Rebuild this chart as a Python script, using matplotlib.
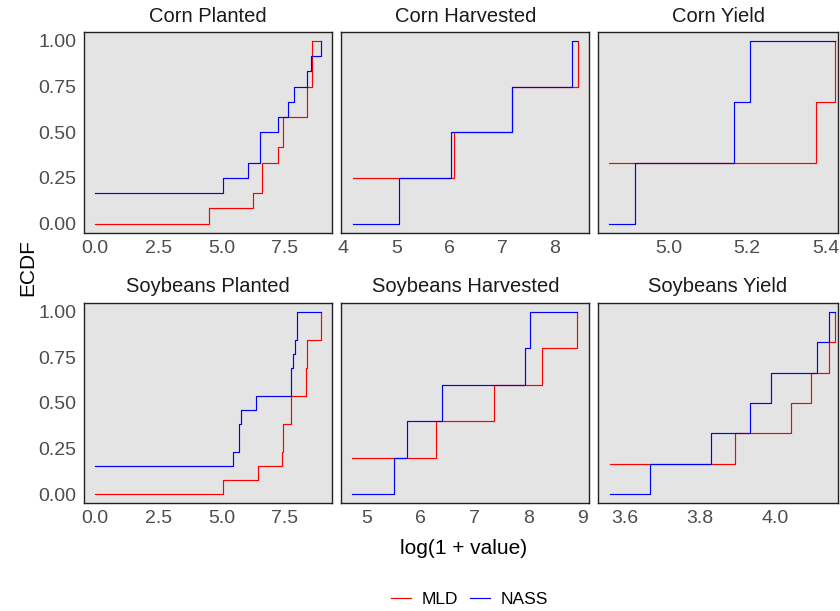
import matplotlib

matplotlib.use("Agg")
import matplotlib.pyplot as plt
from matplotlib.lines import Line2D

plt.rcParams["font.family"] = ["Liberation Sans", "DejaVu Sans"]

# step data: x where each level starts, y = ECDF level (last point closes the line)
panels = ["Corn Planted", "Corn Harvested", "Corn Yield",
          "Soybeans Planted", "Soybeans Harvested", "Soybeans Yield"]

corn_planted_mld_x = [0.0, 4.51, 6.25, 6.58, 7.22, 7.42, 8.37, 8.55, 8.92]
corn_planted_mld_y = [0.0, 0.083, 0.167, 0.333, 0.417, 0.583, 0.75, 1.0, 1.0]
corn_planted_nass_x = [0.0, 5.07, 6.03, 6.51, 7.21, 7.62, 7.84, 8.36, 8.52, 8.92]
corn_planted_nass_y = [0.167, 0.25, 0.333, 0.5, 0.583, 0.667, 0.75, 0.833, 0.917, 1.0]

corn_harv_mld_x = [4.18, 6.09, 7.19, 8.43]
corn_harv_mld_y = [0.25, 0.5, 0.75, 1.0]
corn_harv_nass_x = [4.18, 5.05, 6.03, 7.18, 8.33, 8.42]
corn_harv_nass_y = [0.0, 0.25, 0.5, 0.75, 1.0, 1.0]

corn_yield_mld_x = [4.846, 5.375, 5.424]
corn_yield_mld_y = [0.333, 0.667, 1.0]
corn_yield_nass_x = [4.846, 4.913, 5.167, 5.208, 5.424]
corn_yield_nass_y = [0.0, 0.333, 0.667, 1.0, 1.0]

soy_planted_mld_x = [0.0, 5.04, 6.45, 7.37, 7.41, 7.73, 8.33, 8.37, 8.92]
soy_planted_mld_y = [0.0, 0.077, 0.154, 0.231, 0.385, 0.538, 0.692, 0.846, 1.0]
soy_planted_nass_x = [0.0, 5.47, 5.70, 5.75, 6.34, 7.74, 7.83, 7.90, 7.96, 8.92]
soy_planted_nass_y = [0.154, 0.231, 0.385, 0.462, 0.538, 0.692, 0.769, 0.846, 1.0, 1.0]

soy_harv_mld_x = [4.73, 6.29, 7.36, 8.25, 8.90]
soy_harv_mld_y = [0.2, 0.4, 0.6, 0.8, 1.0]
soy_harv_nass_x = [4.73, 5.52, 5.76, 6.40, 7.94, 8.02, 8.90]
soy_harv_nass_y = [0.0, 0.2, 0.4, 0.6, 0.8, 1.0, 1.0]

soy_yield_mld_x = [3.559, 3.893, 4.044, 4.097, 4.146, 4.160]
soy_yield_mld_y = [0.167, 0.333, 0.5, 0.667, 0.833, 1.0]
soy_yield_nass_x = [3.559, 3.666, 3.831, 3.934, 3.991, 4.113, 4.144, 4.160]
soy_yield_nass_y = [0.0, 0.167, 0.333, 0.5, 0.667, 0.833, 1.0, 1.0]

mld = [
    (corn_planted_mld_x, corn_planted_mld_y),
    (corn_harv_mld_x, corn_harv_mld_y),
    (corn_yield_mld_x, corn_yield_mld_y),
    (soy_planted_mld_x, soy_planted_mld_y),
    (soy_harv_mld_x, soy_harv_mld_y),
    (soy_yield_mld_x, soy_yield_mld_y),
]
nass = [
    (corn_planted_nass_x, corn_planted_nass_y),
    (corn_harv_nass_x, corn_harv_nass_y),
    (corn_yield_nass_x, corn_yield_nass_y),
    (soy_planted_nass_x, soy_planted_nass_y),
    (soy_harv_nass_x, soy_harv_nass_y),
    (soy_yield_nass_x, soy_yield_nass_y),
]

xticks = [
    ([0, 2.5, 5, 7.5], ["0.0", "2.5", "5.0", "7.5"]),
    ([4, 5, 6, 7, 8], ["4", "5", "6", "7", "8"]),
    ([5.0, 5.2, 5.4], ["5.0", "5.2", "5.4"]),
    ([0, 2.5, 5, 7.5], ["0.0", "2.5", "5.0", "7.5"]),
    ([5, 6, 7, 8, 9], ["5", "6", "7", "8", "9"]),
    ([3.6, 3.8, 4.0], ["3.6", "3.8", "4.0"]),
]
xlims = [(-0.43, 9.37), (3.96, 8.65), (4.817, 5.433),
         (-0.43, 9.37), (4.54, 9.12), (3.527, 4.170)]

W, H = 840, 611
fig = plt.figure(figsize=(W / 100, H / 100), dpi=100)

cols = [(84, 332.3), (341.3, 589.3), (597.7, 838.3)]
rows = [(31.7, 232.7), (302.7, 503.3)]
title_y = [16, 287]

red, blue = "#FF0000", "#0000FF"
tick_col = "#4D4D4D"

for i, name in enumerate(panels):
    r, c = divmod(i, 3)
    x0, x1 = cols[c]
    y0, y1 = rows[r]
    ax = fig.add_axes([x0 / W, 1 - y1 / H, (x1 - x0) / W, (y1 - y0) / H])
    ax.set_facecolor("#E4E4E4")
    for s in ax.spines.values():
        s.set_linewidth(1.0)
        s.set_color("#222222")

    mx, my = mld[i]
    nx, ny = nass[i]
    ax.step(mx, my, where="post", color=red, lw=0.85)
    ax.step(nx, ny, where="post", color=blue, lw=0.85)

    ax.set_xlim(*xlims[i])
    ax.set_ylim(-0.05, 1.05)
    ax.set_xticks(xticks[i][0])
    ax.set_xticklabels(xticks[i][1])
    ax.set_yticks([0, 0.25, 0.5, 0.75, 1.0])
    if c == 0:
        ax.set_yticklabels(["0.00", "0.25", "0.50", "0.75", "1.00"])
    else:
        ax.set_yticklabels([])
    ax.tick_params(length=0, labelsize=14, labelcolor=tick_col)
    ax.tick_params(axis="x", pad=5)
    ax.tick_params(axis="y", pad=5.5)

    fig.text((x0 + x1) / 2 / W, 1 - title_y[r] / H, name, ha="center",
             va="center", fontsize=14.5, color="#1A1A1A")

fig.text(28 / W, 1 - 268 / H, "ECDF", rotation=90, ha="center", va="center",
         fontsize=15)
fig.text(464 / W, 1 - 548 / H, "log(1 + value)", ha="center", va="center",
         fontsize=15)

handles = [Line2D([], [], color=red, lw=0.85), Line2D([], [], color=blue, lw=0.85)]
fig.legend(handles, ["MLD", "NASS"], loc="center", ncol=2, frameon=False,
           bbox_to_anchor=(469.6 / W, 1 - 599 / H), fontsize=12.5,
           handlelength=1.15, handletextpad=0.6, columnspacing=0.7)

fig.savefig("out.png", dpi=100)
